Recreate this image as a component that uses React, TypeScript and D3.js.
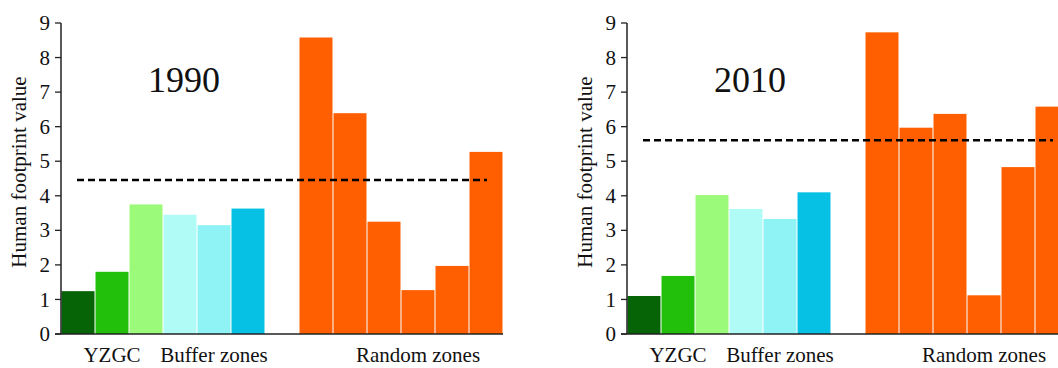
import React from "react";
import * as d3 from "d3";

// bar slots, left to right (the "gap" slot stays empty)
const categories = ["Y1", "Y2", "Y3", "B1", "B2", "B3", "gap", "R1", "R2", "R3", "R4", "R5", "R6"];
const barColors = [
  "#066406", "#22c00b", "#9cfa7b", "#b0fbf6", "#8ff3f5", "#06c1e4", "none",
  "#ff5f00", "#ff5f00", "#ff5f00", "#ff5f00", "#ff5f00", "#ff5f00",
];
const values1990 = [1.24, 1.8, 3.75, 3.45, 3.15, 3.63, null, 8.58, 6.39, 3.25, 1.27, 1.97, 5.27];
const values2010 = [1.1, 1.68, 4.02, 3.62, 3.33, 4.1, null, 8.73, 5.97, 6.37, 1.12, 4.83, 6.58];
const mean1990 = 4.46;
const mean2010 = 5.61;
const yTicks = [0, 1, 2, 3, 4, 5, 6, 7, 8, 9];
const groupLabels = [
  { text: "YZGC", at: "Y2" },
  { text: "Buffer zones", at: "B2" },
  { text: "Random zones", at: "R4" },
];

const FONT = "Liberation Serif, Times New Roman, serif";
const txt = { fontFamily: FONT };

const Panel = ({ x0, title, values, mean }) => {
  const xScale = d3.scaleBand().domain(categories).range([x0, x0 + 442]).paddingInner(0.03).paddingOuter(0.015);
  const yScale = d3.scaleLinear().domain([0, 9]).range([334, 23]);
  const y0 = yScale(0);

  const bars = categories.map((c, i) =>
    values[i] == null ? null : (
      <rect
        key={c}
        x={xScale(c)}
        y={yScale(values[i])}
        width={xScale.bandwidth()}
        height={y0 - yScale(values[i])}
        fill={barColors[i]}
      />
    )
  );

  return (
    <g fill="#111">
      {bars}
      {/* axes */}
      <line x1={x0} x2={x0} y1={yScale(9)} y2={y0} stroke="#222" strokeWidth={1.5} />
      <line x1={x0 - 6} x2={x0 + 442} y1={y0} y2={y0} stroke="#222" strokeWidth={1.5} />
      {yTicks.map(t => (
        <g key={t}>
          <line x1={x0 - 6} x2={x0} y1={yScale(t)} y2={yScale(t)} stroke="#222" strokeWidth={1.3} />
          <text x={x0 - 11} y={yScale(t)} dy="0.34em" textAnchor="end" fontSize={21} style={txt}>
            {t}
          </text>
        </g>
      ))}
      <text
        transform={`translate(${x0 - 42},${172}) rotate(-90)`}
        textAnchor="middle"
        dy="0.35em"
        fontSize={21}
        style={txt}
      >
        Human footprint value
      </text>
      {/* mean line */}
      <line
        x1={x0 + 16}
        x2={x0 + 426}
        y1={yScale(mean)}
        y2={yScale(mean)}
        stroke="#000"
        strokeWidth={2.5}
        strokeDasharray="7,4"
      />
      <text x={x0 + 123} y={92} textAnchor="middle" fontSize={36} style={txt}>
        {title}
      </text>
      {groupLabels.map(g => (
        <text
          key={g.text}
          x={xScale(g.at) + xScale.bandwidth() / 2}
          y={362}
          textAnchor="middle"
          fontSize={21}
          style={txt}
        >
          {g.text}
        </text>
      ))}
    </g>
  );
};

export default function App() {
  return (
    <svg
      width={1058}
      height={368}
      style={{ position: "absolute", left: 0, top: 0, background: "#fff" }}
    >
      <Panel x0={61} title="1990" values={values1990} mean={mean1990} />
      <Panel x0={627} title="2010" values={values2010} mean={mean2010} />
    </svg>
  );
}
